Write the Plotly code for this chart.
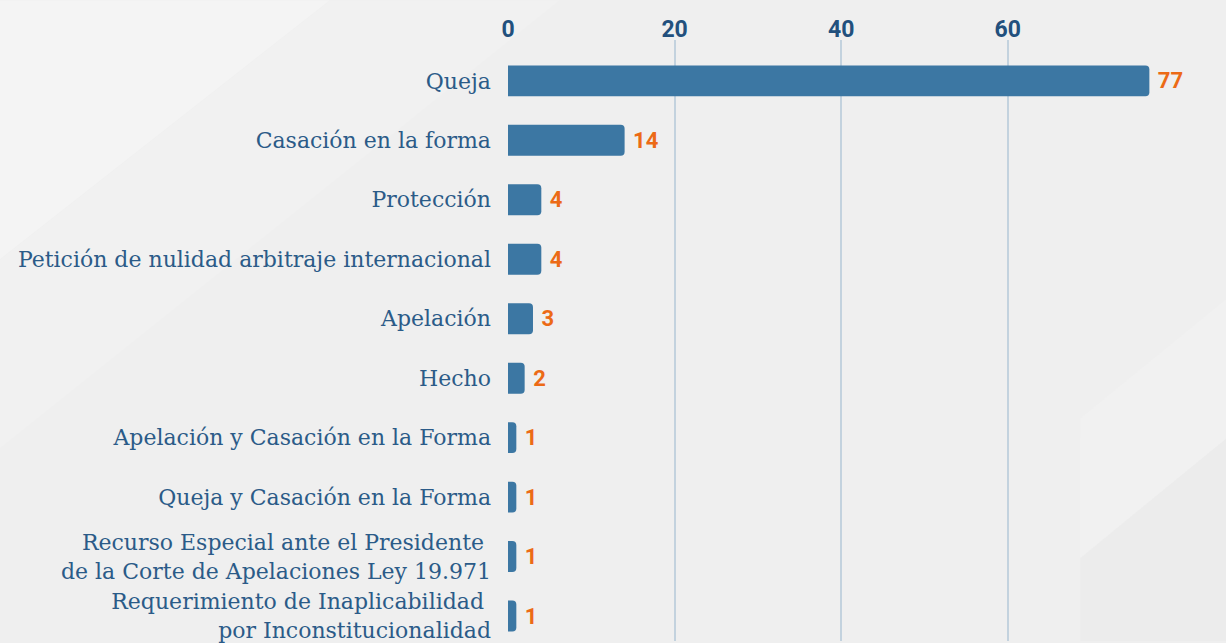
import plotly.graph_objects as go

# Recursos por tipo (cantidad de causas)
categorias = [
    "Queja",
    "Casación en la forma",
    "Protección",
    "Petición de nulidad arbitraje internacional",
    "Apelación",
    "Hecho",
    "Apelación y Casación en la Forma",
    "Queja y Casación en la Forma",
    "Recurso Especial ante el Presidente <br>de la Corte de Apelaciones Ley 19.971",
    "Requerimiento de Inaplicabilidad <br>por Inconstitucionalidad",
]
valores = [77, 14, 4, 4, 3, 2, 1, 1, 1, 1]
ticks_x = [0, 20, 40, 60]

COLOR_BARRA = "#3c77a3"
COLOR_TEXTO = "#2b5b88"
COLOR_EJE = "#22507d"
COLOR_VALOR = "#ec6a16"
FONDO = "#efefef"

W, H = 1226, 643
M_IZQ, M_SUP = 508, 40

fig = go.Figure(
    go.Bar(
        x=valores,
        y=categorias,
        orientation="h",
        marker=dict(color=COLOR_BARRA, cornerradius=4, line=dict(width=0)),
        text=[f" {v}" for v in valores],
        textposition="outside",
        cliponaxis=False,
        textfont=dict(family="Roboto", size=22, color=COLOR_VALOR, weight="bold"),
        hoverinfo="x+y",
    )
)

fig.update_layout(
    width=W,
    height=H,
    margin=dict(l=M_IZQ, r=0, t=M_SUP, b=0),
    paper_bgcolor=FONDO,
    plot_bgcolor="rgba(0,0,0,0)",
    bargap=0.48,
    showlegend=False,
    xaxis=dict(
        side="top",
        range=[0, 86.2],
        tickvals=ticks_x,
        ticktext=[str(t) for t in ticks_x],
        tickfont=dict(family="Roboto", size=23, color=COLOR_EJE, weight="bold"),
        showgrid=True,
        gridcolor="#c3d2de",
        gridwidth=2,
        zeroline=False,
        showline=False,
        ticks="",
        ticklabelstandoff=-3,
        fixedrange=True,
    ),
    yaxis=dict(
        type="category",
        range=[9.42, -0.687],
        tickfont=dict(family="DejaVu Serif", size=22, color=COLOR_TEXTO),
        showgrid=False,
        zeroline=False,
        showline=False,
        ticks="",
        ticklabelstandoff=16,
        fixedrange=True,
    ),
)


def a_papel(px, py):
    """Convierte píxeles de la figura a coordenadas 'paper'."""
    ancho = W - M_IZQ
    alto = H - M_SUP
    return (px - M_IZQ) / ancho, (H - py) / alto


def ruta(puntos):
    pts = [a_papel(x, y) for x, y in puntos]
    return "M" + " L".join(f"{x:.4f},{y:.4f}" for x, y in pts) + " Z"


# Paneles geométricos tenues del fondo
paneles = [
    ([(0, 0), (330, 0), (0, 260)], "rgba(255,255,255,0.30)"),
    ([(0, 260), (330, 0), (560, 0), (0, 450)], "rgba(255,255,255,0.12)"),
    ([(1080, 643), (1080, 560), (1226, 440), (1226, 643)], "rgba(220,220,220,0.15)"),
    ([(1080, 560), (1080, 420), (1226, 300), (1226, 440)], "rgba(255,255,255,0.12)"),
]
for puntos, color in paneles:
    fig.add_shape(type="path", path=ruta(puntos), xref="paper", yref="paper",
                  fillcolor=color, line=dict(width=0), layer="below")

fig.write_html("out.html")
